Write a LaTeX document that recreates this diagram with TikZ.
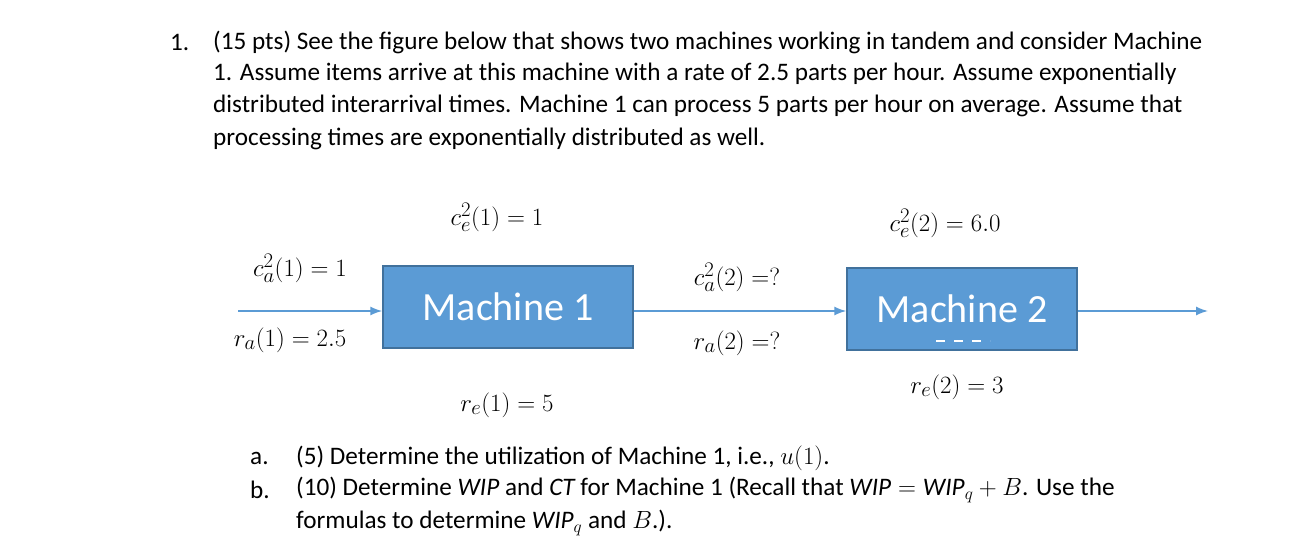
\documentclass[tikz,border=0pt]{standalone}
\usepackage{fontspec}
\setmainfont{Carlito}
\usepackage{amsmath}
\usetikzlibrary{arrows.meta}
\begin{document}
\begin{tikzpicture}[x=1pt,y=-1pt,
  txt/.style={anchor=west,font=\fontsize{25.2}{30}\selectfont,inner sep=0},
  lab/.style={font=\fontsize{29}{32}\selectfont,inner sep=0},
  mach/.style={draw=mborder,fill=mfill,line width=1.5pt,text=white,font=\fontsize{40}{44}\selectfont},
  flow/.style={draw=mfill,line width=1.5pt,-{Latex[length=12pt,width=9pt]}}]
\definecolor{mfill}{HTML}{5B9BD5}
\definecolor{mborder}{HTML}{41719C}
\useasboundingbox (0,0) rectangle (1292,552);
\fill[white] (0,0) rectangle (1292,552);
\node[txt] (n1) at (170,42) {1.};
\node[txt] (l1) at (213,42) {(15 pts) See the figure below that shows two machines working in tandem and consider Machine};
\node[txt] (l2) at (213,74) {1. Assume items arrive at this machine with a rate of 2.5 parts per hour. Assume exponentially};
\node[txt] (l3) at (213,106) {distributed interarrival times. Machine 1 can process 5 parts per hour on average. Assume that};
\node[txt] (l4) at (213,139) {processing times are exponentially distributed as well.};
\node[mach,minimum width=250,minimum height=82] (m1) at (508,307) {Machine 1};
\node[mach,minimum width=230,minimum height=82] (m2) at (962,309) {Machine 2};
\coordinate (in) at (238,311);
\coordinate (out) at (1208,311);
\draw[flow] (in) -- (in -| m1.west);
\draw[flow] (m1.east |- in) -- (m2.west |- in);
\draw[flow] (m2.east |- in) -- (out);
\draw[white,line width=1.3pt,dash pattern=on 9pt off 9pt] (936,341) -- (990,341);
\node[lab] (ce1) at (497,217) {$c_e^2(1) = 1$};
\node[lab] (ce2) at (945,223) {$c_e^2(2) = 6.0$};
\node[lab] (ca1) at (300,268) {$c_a^2(1) = 1$};
\node[lab] (ra1) at (290,340) {$r_a(1) = 2.5$};
\node[lab] (ca2) at (737,277) {$c_a^2(2) =?$};
\node[lab] (ra2) at (737,343) {$r_a(2) =?$};
\node[lab] (re2) at (957,387) {$r_e(2) = 3$};
\node[lab] (re1) at (507,405) {$r_e(1) = 5$};
\node[txt] (a) at (250,458) {a.};
\node[txt] (at) at (296,458) {(5) Determine the utilization of Machine 1, i.e., $u(1)$.};
\node[txt] (b) at (250,490) {b.};
\node[txt] (bt) at (296,490) {(10) Determine $\mathit{WIP}$ and $\mathit{CT}$ for Machine 1 (Recall that $\mathit{WIP} = \mathit{WIP}_q + B$. Use the};
\node[txt] (bt2) at (296,523) {formulas to determine $\mathit{WIP}_q$ and $B$.).};
\end{tikzpicture}
\end{document}
